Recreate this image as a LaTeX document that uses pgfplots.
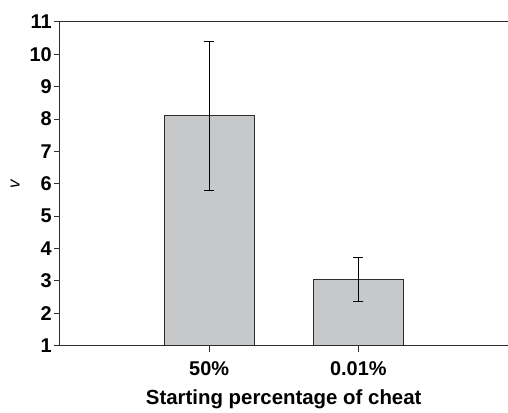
\documentclass[border=0pt]{standalone}
\usepackage{pgfplots}
\pgfplotsset{compat=1.18}
\usepackage{fontspec}
\setmainfont{Liberation Sans}
\definecolor{barfill}{RGB}{199,200,202}
\definecolor{edge}{RGB}{45,45,45}

\begin{document}
\begin{tikzpicture}
\begin{axis}[
    scale only axis,
    width=448bp, height=324bp,
    ybar, bar width=90bp,
    xmin=-1, xmax=2,
    ymin=1, ymax=11,
    ytick={1,...,11},
    xtick={0,1},
    xticklabels={50\%,0.01\%},
    axis x line*=bottom,
    axis y line*=left,
    axis line style={edge, line width=1pt, -},
    tick align=outside,
    major tick length=6bp,
    tick style={edge, line width=1pt},
    /pgf/number format/assume math mode=true,
    tick label style={font=\fontsize{20}{22}\selectfont\bfseries},
    yticklabel style={inner xsep=2bp},
    xticklabel style={yshift=-6bp},
    xlabel={Starting percentage of cheat},
    xlabel style={font=\fontsize{20.5}{23}\selectfont\bfseries,
        at={(axis description cs:0.5,-0.167)}, anchor=center},
    ylabel={\itshape v},
    ylabel style={font=\fontsize{17}{19}\selectfont,
        at={(axis description cs:-0.1,0.5)}, anchor=center},
    clip=false,
]
\addplot[fill=barfill, draw=edge, line width=1pt,
    error bars/.cd, y dir=both, y explicit,
    error bar style={black, line width=0.8pt},
    error mark options={rotate=90, mark size=5bp, line width=0.8pt, black}]
coordinates {
    (0,8.10) +- (0,2.30)
    (1,3.05) +- (0,0.67)
};
\draw[edge, line width=1pt] (rel axis cs:0,1) -- (rel axis cs:1,1);
\path (rel axis cs:0,0) ++(-60bp,-64bp) coordinate (bl);
\path (rel axis cs:1,1) ++(0bp,22bp) coordinate (tr);
\end{axis}
\useasboundingbox (bl) rectangle (tr);
\end{tikzpicture}
\end{document}
